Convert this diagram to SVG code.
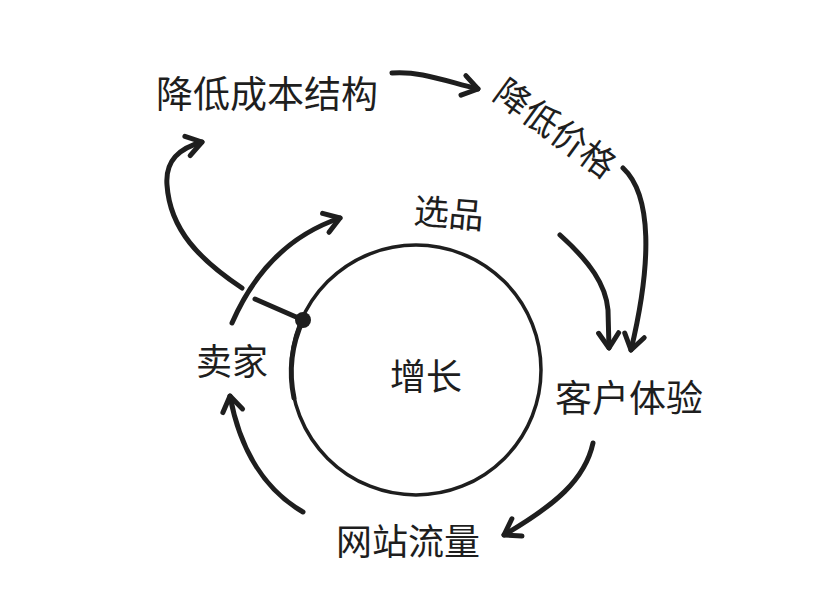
<svg xmlns="http://www.w3.org/2000/svg" width="825" height="598" viewBox="0 0 825 598">
<style>
.lbl{font-family:"Noto Sans CJK SC","Noto Sans",sans-serif;font-weight:400;fill:#1e1e1e;}
.arr{fill:none;stroke:#1e1e1e;stroke-width:5;stroke-linecap:round;stroke-linejoin:round;}
</style>
<defs>
<marker id="ah" markerUnits="userSpaceOnUse" markerWidth="40" markerHeight="40" viewBox="-20 -20 40 40" refX="0" refY="0" orient="auto" overflow="visible">
<path d="M-15,-10 L0,0 L-15,10" fill="none" stroke="#1e1e1e" stroke-width="5" stroke-linecap="round" stroke-linejoin="round"/>
</marker>
</defs>
<rect width="825" height="598" fill="#ffffff"/>
<g id="hub">
<circle cx="416" cy="370" r="125" fill="none" stroke="#1e1e1e" stroke-width="3.5"/>
<path d="M303,320 A125,125 0 0 0 294,398" fill="none" stroke="#1e1e1e" stroke-width="5" stroke-linecap="round"/>
<text class="lbl" x="426" y="390" font-size="36" text-anchor="middle">增长</text>
</g>
<g id="n-cost"><text class="lbl" x="156" y="108" font-size="37">降低成本结构</text></g>
<g id="n-price"><text class="lbl" transform="translate(555,129) rotate(36)" x="0" y="12" font-size="35" text-anchor="middle">降低价格</text></g>
<g id="n-select"><text class="lbl" transform="rotate(5 449 212)" x="449" y="226" font-size="35" text-anchor="middle">选品</text></g>
<g id="n-cx"><text class="lbl" x="629" y="412" font-size="37" text-anchor="middle">客户体验</text></g>
<g id="n-traffic"><text class="lbl" x="408" y="555" font-size="36" text-anchor="middle">网站流量</text></g>
<g id="n-seller"><text class="lbl" x="232" y="375" font-size="36" text-anchor="middle">卖家</text></g>
<g id="connectors">
<path class="arr" d="M392,73 C420,71 442,80 478,89" marker-end="url(#ah)"/>
<path class="arr" d="M623,168 C652,195 652,262 631,350" marker-end="url(#ah)"/>
<path class="arr" d="M560,235 C590,262 606,285 608,310 L609,348" marker-end="url(#ah)"/>
<path class="arr" d="M593,443 C585,480 555,505 504,535" marker-end="url(#ah)"/>
<path class="arr" d="M303,512 C265,490 240,450 230,396" marker-end="url(#ah)"/>
<path class="arr" d="M232,323 C255,270 290,235 340,218" marker-end="url(#ah)"/>
<path class="arr" d="M242,288 C200,260 170,230 167,185 C165,160 180,148 202,142" marker-end="url(#ah)"/>
<path class="arr" d="M255,299 L303,320"/>
<circle cx="303" cy="320" r="8" fill="#1e1e1e"/>
</g>
</svg>
